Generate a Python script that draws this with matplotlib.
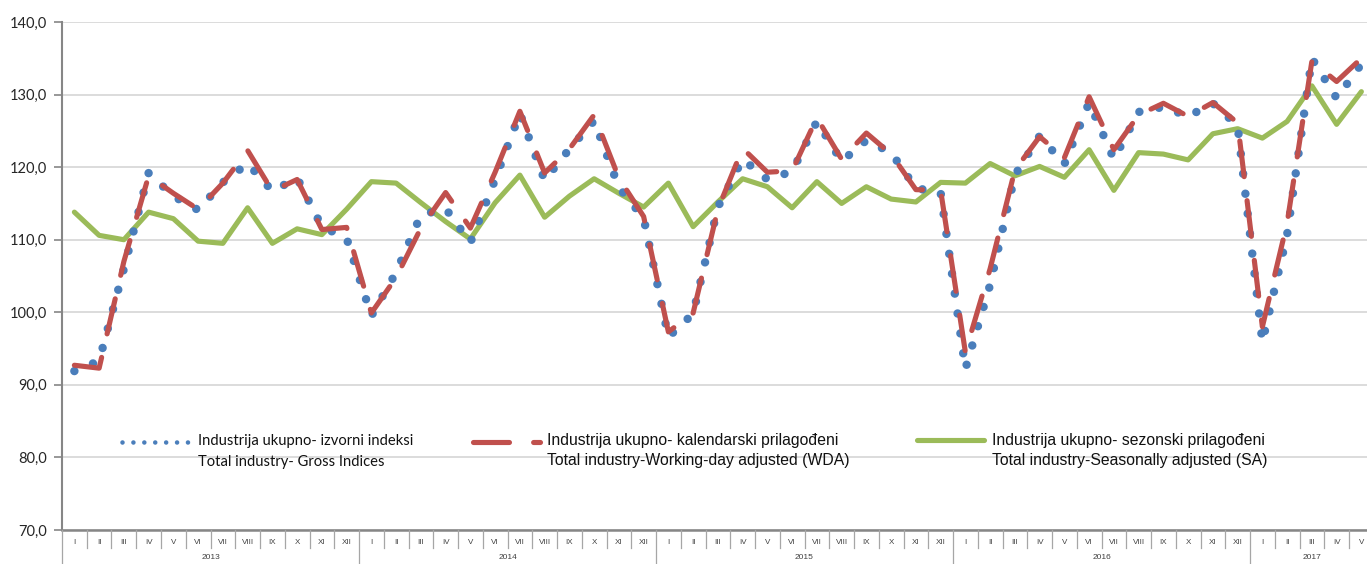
import matplotlib
matplotlib.use('Agg')
import matplotlib.pyplot as plt
from matplotlib.lines import Line2D
import numpy as np

plt.rcParams['font.family'] = ['Liberation Sans', 'DejaVu Sans']

W, H = 1367, 564

# 2013 I ... 2017 V
years = ['2013', '2014', '2015', '2016', '2017']
months = ['I', 'II', 'III', 'IV', 'V', 'VI', 'VII', 'VIII', 'IX', 'X', 'XI', 'XII']
month_labels = months * 4 + months[:5]

gross = [91.9, 93.3, 106.0, 119.2, 116.0, 114.1, 117.9, 120.5, 116.7, 118.5, 111.8, 110.2,
         99.5, 105.5, 113.4, 114.3, 109.6, 118.3, 127.4, 118.2, 122.5, 126.4, 117.2, 113.0,
         96.6, 99.8, 114.5, 121.1, 118.3, 119.4, 126.3, 120.8, 123.7, 122.0, 117.1, 116.5,
         92.2, 103.8, 118.9, 124.3, 120.4, 128.9, 121.1, 127.6, 128.3, 127.0, 128.8, 125.7,
         95.9, 110.7, 135.0, 129.5, 134.2]

wda = [92.7, 92.3, 107.0, 118.8, 116.4, 114.2, 117.8, 122.3, 116.7, 118.3, 111.4, 111.7,
       99.9, 104.8, 111.6, 116.5, 111.6, 119.3, 127.7, 119.2, 122.5, 127.2, 118.5, 113.2,
       97.3, 99.9, 114.2, 122.6, 119.3, 119.5, 126.8, 121.1, 124.7, 121.8, 116.9, 116.8,
       94.5, 106.0, 119.6, 124.2, 121.3, 129.7, 122.4, 127.2, 128.8, 127.0, 128.9, 126.1,
       98.0, 112.3, 134.6, 131.8, 135.0]

sa = [113.8, 110.6, 110.0, 113.8, 112.9, 109.8, 109.5, 114.4, 109.5, 111.5, 110.7, 114.2,
      118.0, 117.8, 115.1, 112.5, 110.1, 115.1, 118.9, 113.1, 116.0, 118.4, 116.4, 114.5,
      117.8, 111.8, 115.2, 118.4, 117.3, 114.4, 118.0, 115.0, 117.3, 115.6, 115.2, 117.9,
      117.8, 120.5, 118.8, 120.1, 118.6, 122.4, 116.8, 122.0, 121.8, 121.0, 124.6, 125.3,
      124.0, 126.3, 131.2, 125.9, 130.4]

legend_lines = [
    ('Industrija ukupno- izvorni indeksi', 'Total industry- Gross Indices'),
    ('Industrija ukupno- kalendarski prilagođeni', 'Total industry-Working-day adjusted (WDA)'),
    ('Industrija ukupno- sezonski prilagođeni', 'Total industry-Seasonally adjusted (SA)'),
]

BLUE = '#4A7EBB'
RED = '#C0504D'
GREEN = '#9BBB59'


def fx(px):
    return px / W


def fy(py):
    return 1 - py / H


fig = plt.figure(figsize=(W / 100, H / 100), dpi=100)
n = len(gross)
month_w = 24.75
left_px, top_px, bottom_px = 62, 22, 530
right_px = left_px + n * month_w
ax = fig.add_axes([fx(left_px), fy(bottom_px), fx(right_px) - fx(left_px),
                   (bottom_px - top_px) / H])

x = np.arange(n)
ax.plot(x, sa, color=GREEN, lw=3.7, solid_joinstyle='round', solid_capstyle='round', zorder=3)
ax.plot(x, gross, color=BLUE, lw=6.1, linestyle=(0, (0.001, 2.37)),
        dash_capstyle='round', zorder=4)
ax.plot(x, wda, color=RED, lw=3.7, linestyle=(0, (7.0, 4.7)),
        dash_capstyle='round', dash_joinstyle='round', zorder=5)

ax.set_xlim(-0.5, n - 0.5)
ax.set_ylim(70, 140)
ax.set_yticks(np.arange(70, 141, 10))
ax.set_yticklabels([f'{v:.1f}'.replace('.', ',') for v in np.arange(70, 141, 10)],
                   family=['Lato', 'DejaVu Sans'], fontsize=10.5, color='#262626')
ax.tick_params(axis='y', length=6, width=1.2, color='#868686', pad=5)
ax.set_xticks([])
ax.grid(axis='y', color='#D9D9D9', lw=1.3, zorder=0)
ax.set_axisbelow(True)
for side in ['top', 'right']:
    ax.spines[side].set_visible(False)
ax.spines['left'].set_color('#868686')
ax.spines['left'].set_linewidth(1.5)
ax.spines['bottom'].set_color('#868686')
ax.spines['bottom'].set_linewidth(1.8)

# category axis: month boxes and years
for i, lab in enumerate(month_labels):
    cx = left_px + (i + 0.5) * month_w
    fig.text(fx(cx), fy(543), lab, ha='center', va='center', fontsize=5.8, color='#404040')
for i in range(n + 1):
    px = left_px + i * month_w
    if i % 12 == 0:
        y_end = H
    else:
        y_end = 548
    fig.add_artist(Line2D([fx(px), fx(px)], [fy(530), fy(y_end)], transform=fig.transFigure,
                          color='#A6A6A6', lw=0.9))
for k, yr in enumerate(years):
    nm = min(12, n - 12 * k)
    cx = left_px + (12 * k + nm / 2) * month_w
    fig.text(fx(cx), fy(554), yr, ha='center', va='top', fontsize=6, color='#404040')

# legend
fig.add_artist(Line2D([fx(122), fx(188)], [fy(442), fy(442)], transform=fig.transFigure,
                      color=BLUE, lw=3.3, linestyle=(0, (0.001, 2.38)), dash_capstyle='round'))
fig.add_artist(Line2D([fx(472.5), fx(539.5)], [fy(442), fy(442)], transform=fig.transFigure,
                      color=RED, lw=3.7, linestyle=(0, (7.0, 4.7)), dash_capstyle='round'))
fig.add_artist(Line2D([fx(917), fx(984)], [fy(440), fy(440)], transform=fig.transFigure,
                      color=GREEN, lw=3.7, solid_capstyle='round'))

fig.text(fx(198), fy(441), legend_lines[0][0], family=['Lato', 'DejaVu Sans'],
         fontsize=10.6, va='center', ha='left', color='#111111')
fig.text(fx(198), fy(462), legend_lines[0][1], family=['Lato', 'DejaVu Sans'],
         fontsize=10.6, va='center', ha='left', color='#111111')
for (l1, l2), px in zip(legend_lines[1:], [547, 992]):
    fig.text(fx(px), fy(440), l1, fontsize=11.3, va='center', ha='left', color='#111111')
    fig.text(fx(px), fy(460), l2, fontsize=11.3, va='center', ha='left', color='#111111')

fig.savefig('out.png', dpi=100, facecolor='white')
